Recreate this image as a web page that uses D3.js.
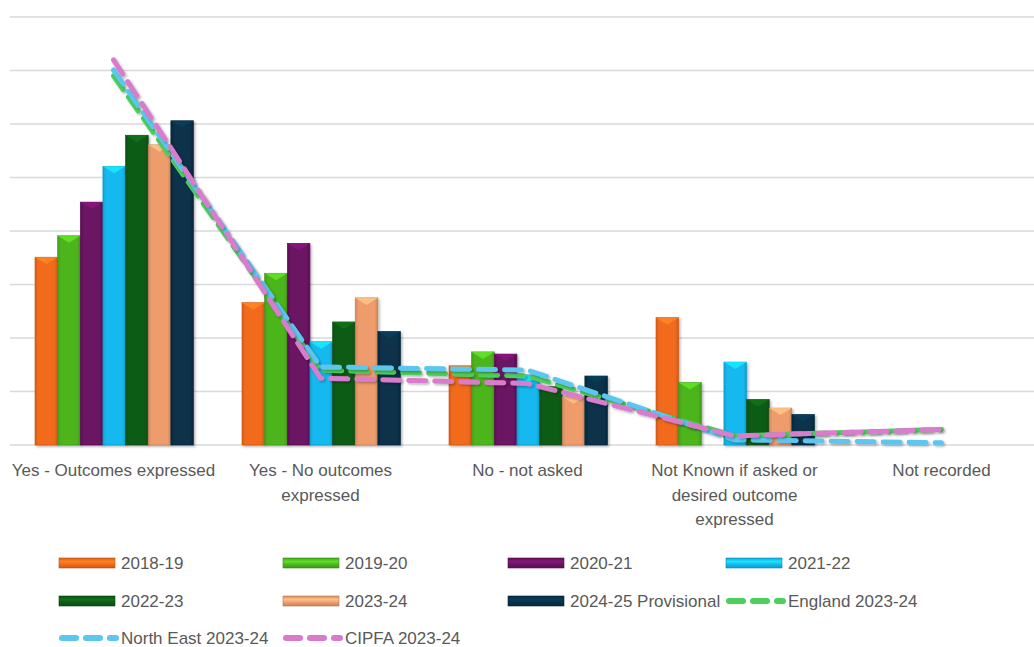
<!DOCTYPE html>
<html>
<head>
<meta charset="utf-8">
<script src="https://cdn.jsdelivr.net/npm/d3@7"></script>
<style>
  body { margin: 0; background: #fff; }
  text { font-family: "Liberation Sans", Arial, sans-serif; fill: #595959; }
</style>
</head>
<body>
<div id="chart"></div>
<script>
// categories (use "\n" for the wrapped axis labels)
var categories = ["Yes - Outcomes expressed", "Yes - No outcomes\nexpressed", "No - not asked",
                  "Not Known if asked or\ndesired outcome\nexpressed", "Not recorded"];

// bar series, values (grid unit = 10)
var barSeries = ["2018-19", "2019-20", "2020-21", "2021-22", "2022-23", "2023-24", "2024-25 Provisional"];
var v2018 = [35.1, 26.6, 14.8, 23.8, 0];
var v2019 = [39.1, 32.1, 17.4, 11.7, 0];
var v2020 = [45.4, 37.7, 17.0, 0, 0];
var v2021 = [52.1, 19.3, 13.1, 15.5, 0];
var v2022 = [57.9, 23.0, 10.9, 8.5, 0];
var v2023 = [56.1, 27.5, 9.0, 6.9, 0];
var v2024 = [60.6, 21.2, 12.9, 5.7, 0];
var barValues = [v2018, v2019, v2020, v2021, v2022, v2023, v2024];
var barColors = ["#F26A1B", "#4DB51F", "#6B1262", "#13B9EF", "#0D5B16", "#EE9C6C", "#07304A"];

// comparator lines
var lineSeries = ["England 2023-24", "North East 2023-24", "CIPFA 2023-24"];
var england = [69.0, 14.0, 12.9, 1.7, 2.9];
var northEast = [70.1, 14.6, 14.0, 1.0, 0.4];
var cipfa = [72.0, 12.5, 11.5, 1.7, 2.9];
var lineValues = [england, northEast, cipfa];
var lineColors = ["#4ECF5C", "#5CC6EE", "#D97BCD"];

var yTicks = [0, 10, 20, 30, 40, 50, 60, 70, 80];

var W = 1034, H = 647;
var svg = d3.select("#chart").append("svg").attr("width", W).attr("height", H);
var defs = svg.append("defs");

var x = d3.scaleBand().domain(categories).range([10, 1045]);
var xSub = d3.scaleBand().domain(barSeries).range([25, 183.5]);
var y = d3.scaleLinear().domain([0, 80]).range([445, 17]);

// gradients for the bevelled bars
barColors.forEach(function(c, i) {
  var g = defs.append("linearGradient").attr("id", "bar" + i).attr("x1", 0).attr("x2", 1).attr("y1", 0).attr("y2", 0);
  g.append("stop").attr("offset", "0%").attr("stop-color", d3.color(c).darker(0.35));
  g.append("stop").attr("offset", "15%").attr("stop-color", c);
  g.append("stop").attr("offset", "85%").attr("stop-color", c);
  g.append("stop").attr("offset", "100%").attr("stop-color", d3.color(c).darker(0.45));
  var lg = defs.append("linearGradient").attr("id", "leg" + i).attr("x1", 0).attr("x2", 0).attr("y1", 0).attr("y2", 1);
  lg.append("stop").attr("offset", "0%").attr("stop-color", d3.color(c).darker(0.3));
  lg.append("stop").attr("offset", "35%").attr("stop-color", d3.color(c).brighter(0.6));
  lg.append("stop").attr("offset", "65%").attr("stop-color", c);
  lg.append("stop").attr("offset", "100%").attr("stop-color", d3.color(c).darker(0.5));
});
var sh = defs.append("filter").attr("id", "shadow").attr("x", "-10%").attr("y", "-10%").attr("width", "130%").attr("height", "130%");
sh.append("feDropShadow").attr("dx", 1.5).attr("dy", 1.5).attr("stdDeviation", 1.2)
  .attr("flood-color", "#000").attr("flood-opacity", 0.3);

// gridlines
svg.append("g").selectAll("line").data(yTicks).enter().append("line")
  .attr("x1", 10).attr("x2", W)
  .attr("y1", function(d) { return y(d); }).attr("y2", function(d) { return y(d); })
  .attr("stroke", "#d9d9d9").attr("stroke-width", 1.5);

// bars
var groups = svg.append("g").selectAll("g").data(categories).enter().append("g")
  .attr("transform", function(d) { return "translate(" + x(d) + ",0)"; });

groups.each(function(cat, ci) {
  var g = d3.select(this);
  barSeries.forEach(function(s, si) {
    var v = barValues[si][ci];
    if (v <= 0) return;
    var bx = xSub(s), bw = xSub.bandwidth(), top = y(v);
    g.append("rect").attr("x", bx).attr("y", top).attr("width", bw).attr("height", y(0) - top)
      .attr("fill", "url(#bar" + si + ")").attr("stroke", d3.color(barColors[si]).darker(0.6))
      .attr("stroke-width", 0.6).attr("filter", "url(#shadow)");
    g.append("path")
      .attr("d", "M" + bx + "," + top + "L" + (bx + bw) + "," + top + "L" + (bx + bw / 2) + "," + (top + 7) + "Z")
      .attr("fill", d3.color(barColors[si]).brighter(0.7)).attr("opacity", 0.8);
  });
});

// lines
var line = d3.line()
  .x(function(d, i) { return x(categories[i]) + x.bandwidth() / 2; })
  .y(function(d) { return y(d); });
lineValues.forEach(function(vals, i) {
  svg.append("path").datum(vals).attr("d", line)
    .attr("fill", "none").attr("stroke", lineColors[i]).attr("stroke-width", 5)
    .attr("stroke-dasharray", "17,9").attr("stroke-linecap", "round")
    .attr("filter", "url(#shadow)");
});

// x labels
groups.append("text")
  .attr("text-anchor", "middle").attr("font-size", 17)
  .each(function(d) {
    var t = d3.select(this);
    d.split("\n").forEach(function(part, k) {
      t.append("tspan").attr("x", x.bandwidth() / 2).attr("y", 476 + k * 24.5).text(part);
    });
  });

// legend: bars, then England, North East, CIPFA
var legendItems = barSeries.map(function(s, i) { return {name: s, type: "bar", idx: i}; })
  .concat(lineSeries.map(function(s, i) { return {name: s, type: "line", idx: i}; }));
var colX = [59, 283, 508, 726];
var rowY = [563, 601, 638];
var leg = svg.append("g").selectAll("g").data(legendItems).enter().append("g")
  .attr("transform", function(d, i) { return "translate(" + colX[i % 4] + "," + rowY[Math.floor(i / 4)] + ")"; });
leg.each(function(d) {
  var g = d3.select(this);
  if (d.type === "bar") {
    g.append("rect").attr("x", 0).attr("y", -5).attr("width", 56).attr("height", 10)
      .attr("fill", "url(#leg" + d.idx + ")").attr("stroke", d3.color(barColors[d.idx]).darker(0.8)).attr("stroke-width", 0.6);
  } else {
    g.append("line").attr("x1", 3).attr("x2", 57).attr("y1", 0).attr("y2", 0)
      .attr("stroke", lineColors[d.idx]).attr("stroke-width", 6)
      .attr("stroke-dasharray", "14,10").attr("stroke-linecap", "round");
  }
  g.append("text").attr("x", 62).attr("y", 6).attr("font-size", 17).text(d.name);
});
</script>
</body>
</html>
